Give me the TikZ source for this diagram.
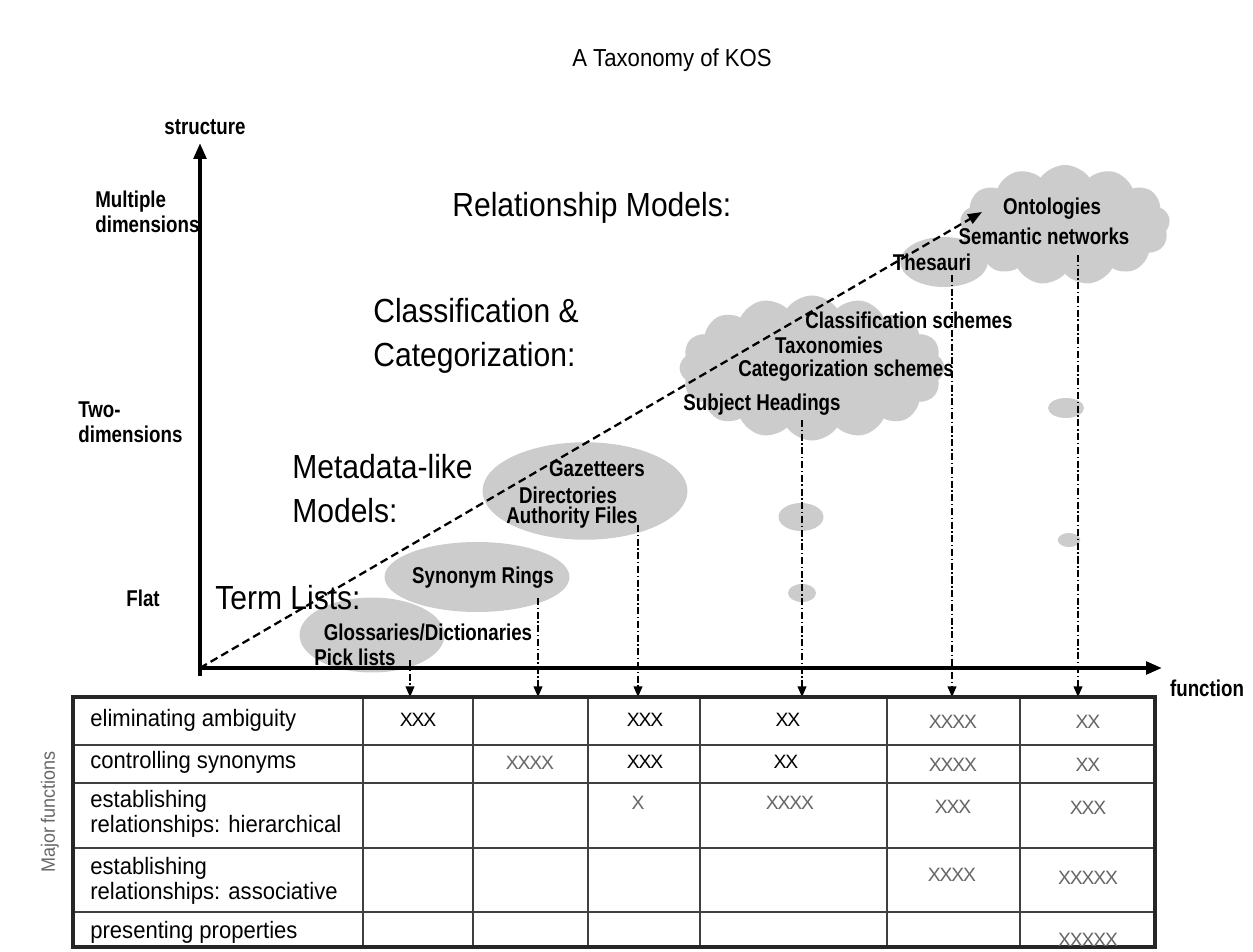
\documentclass[tikz,border=0pt]{standalone}
\usepackage{fontspec}
\setmainfont{Liberation Sans}
\newfontfamily\narrowfont[FakeStretch=0.82]{Liberation Sans}
\newfontfamily\bigfont[FakeStretch=0.9]{Liberation Sans}
\newfontfamily\tabfont[FakeStretch=0.93]{Liberation Sans}
\newfontfamily\crossfont[LetterSpace=-6]{Liberation Sans}
\usetikzlibrary{positioning,shapes.geometric,shapes.symbols,arrows.meta}

\begin{document}
\begin{tikzpicture}[
    x=0.02cm, y=-0.02cm,
    blob/.style={ellipse, fill=black!20, draw=none, inner sep=0pt},
    puffs/.style={cloud, cloud puffs=#1, cloud puff arc=110, cloud ignores aspect, fill=black!20, draw=none, inner sep=0pt},
    kind/.style={font=\narrowfont\bfseries\fontsize{13}{14.2}\selectfont, inner sep=0pt},
    level/.style={kind, align=left, anchor=west},
    family/.style={font=\bigfont\fontsize{19}{25}\selectfont, inner sep=0pt, align=left, anchor=west},
    axis/.style={line width=2.3pt, -{Triangle[length=9pt,width=7pt]}},
    trend/.style={line width=1.3pt, dash pattern=on 4.5pt off 2.5pt, -{Triangle[length=8pt,width=6pt]}},
    drop/.style={line width=0.7pt, dash pattern=on 4pt off 1.5pt on 0.8pt off 1.5pt, -{Triangle[length=6pt,width=5pt]}},
    frame/.style={line width=1.8pt, black!85},
    rule/.style={line width=0.8pt, black!75},
    rowlbl/.style={font=\tabfont\fontsize{13.5}{14.2}\selectfont, inner sep=0pt, align=left, anchor=west},
    cross/.style={font=\crossfont\fontsize{11}{11}\selectfont, text=black!60, inner sep=0pt},
    crossdark/.style={cross, text=black}
]
\useasboundingbox (0,0) rectangle (1253,952);
\fill[white] (0,0) rectangle (1253,952);

\node[font=\bigfont\fontsize{14}{16}\selectfont, inner sep=0pt] (title) at (672,60) {A Taxonomy of KOS};

% shaded groups of KOS
\node[blob, minimum width=2.9cm, minimum height=1.5cm] (glossblob) at (372,635) {};
\node[blob, minimum width=3.7cm, minimum height=1.4cm] (synblob) at (477,577) {};
\node[blob, minimum width=4.1cm, minimum height=1.95cm] (gazblob) at (585,491) {};
\node[puffs=16, minimum width=5.3cm, minimum height=2.9cm] (classcloud) at (812,368) {};
\node[blob, minimum width=1.75cm, minimum height=1cm] (thesblob) at (944,262) {};
\node[puffs=13, minimum width=4.2cm, minimum height=2.4cm] (ontocloud) at (1065,225) {};
\node[blob, minimum width=0.9cm, minimum height=0.56cm] (spot1) at (801,517) {};
\node[blob, minimum width=0.56cm, minimum height=0.36cm] (spot2) at (802,593) {};
\node[blob, minimum width=0.72cm, minimum height=0.4cm] (spot3) at (1066,408) {};
\node[blob, minimum width=0.45cm, minimum height=0.28cm] (spot4) at (1069,540) {};

% axes
\coordinate (origin) at (200,668);
\coordinate (ytip) at (200,143);
\coordinate (xtip) at (1162,668);
\coordinate (ybase) at (200,676);
\coordinate (trendtip) at (982,212);
\draw[axis] (ybase) -- (ytip);
\draw[axis] (origin) -- (xtip);
\draw[trend] (origin) -- (trendtip);

\node[kind] (structure) at (205,127) {structure};
\node[kind] (function) at (1207,688) {function};
\node[level] (multi) at (95,212) {Multiple\\dimensions};
\node[level] (two) at (78,422) {Two-\\dimensions};
\node[kind] (flat) at (143,598) {Flat};

\node[family] (relmodels) at (452,208) {Relationship Models:};
\node[family] (classcat) at (373,336) {Classification \&\\Categorization:};
\node[family] (metamodels) at (292,489) {Metadata-like\\Models:};
\node[family] (termlists) at (215,598) {Term Lists:};

% KOS types
\node[kind] (gloss) at (428,632) {Glossaries/Dictionaries};
\node[kind] (pick) at (355,657) {Pick lists};
\node[kind] (syn) at (483,578) {Synonym Rings};
\node[kind] (gaz) at (597,469) {Gazetteers};
\node[kind] (dir) at (568,495) {Directories};
\node[kind] (auth) at (572,518) {Authority Files};
\node[kind] (subj) at (762,405) {Subject Headings};
\node[kind] (catsch) at (846,371) {Categorization schemes};
\node[kind] (tax) at (829,345) {Taxonomies};
\node[kind] (classsch) at (909,320) {Classification schemes};
\node[kind] (thes) at (932,262) {Thesauri};
\node[kind] (onto) at (1052,209) {Ontologies};
\node[kind] (sem) at (1044,236) {Semantic networks};

% drop lines to the table
\foreach \name/\x/\y in {pick/410/660, syn/538/598, gaz/638/525, subj/802/420, thes/952/275, onto/1078/255}
{
  \coordinate (\name-from) at (\x,\y);
  \coordinate (\name-to) at (\x,697);
  \draw[drop] (\name-from) -- (\name-to);
}

% table
\draw[rule] (73,745) -- (1155,745);
\draw[rule] (73,783) -- (1155,783);
\draw[rule] (73,848) -- (1155,848);
\draw[rule] (73,912) -- (1155,912);
\foreach \x in {363,473,588,700,887,1020}
  \draw[rule] (\x,697) -- (\x,947);
\draw[frame] (73,947) -- (73,697) -- (1155,697) -- (1155,947) -- cycle;

\node[rowlbl] (amb) at (90,720) {eliminating ambiguity};
\node[rowlbl] (synctl) at (90,762) {controlling synonyms};
\node[rowlbl] (hier) at (90,814) {establishing\\relationships: hierarchical};
\node[rowlbl] (assoc) at (90,881) {establishing\\relationships: associative};
\node[rowlbl] (props) at (90,932) {presenting properties};
\node[font=\tabfont\fontsize{11}{12}\selectfont, text=black!60, rotate=90, inner sep=0pt] (major) at (50,812) {Major functions};

\node[crossdark] (x11) at (418,720) {XXX};
\node[crossdark] (x13) at (645,720) {XXX};
\node[crossdark] (x14) at (788,720) {XX};
\node[cross] (x15) at (953,722) {XXXX};
\node[cross] (x16) at (1088,722) {XX};
\node[cross] (x22) at (530,763) {XXXX};
\node[crossdark] (x23) at (645,762) {XXX};
\node[crossdark] (x24) at (786,762) {XX};
\node[cross] (x25) at (953,765) {XXXX};
\node[cross] (x26) at (1088,765) {XX};
\node[cross] (x33) at (638,803) {X};
\node[cross] (x34) at (790,803) {XXXX};
\node[cross] (x35) at (953,807) {XXX};
\node[cross] (x36) at (1088,808) {XXX};
\node[cross] (x45) at (952,875) {XXXX};
\node[cross] (x46) at (1088,878) {XXXXX};
\node[cross] (x56) at (1088,940) {XXXXX};
\end{tikzpicture}
\end{document}
